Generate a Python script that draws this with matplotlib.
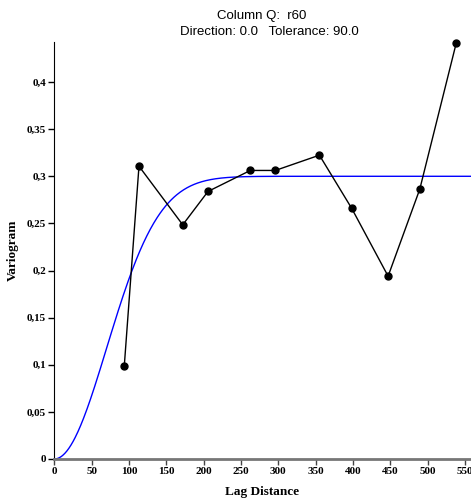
import numpy as np
import matplotlib
matplotlib.use('agg')
import matplotlib.pyplot as plt
from matplotlib.ticker import FuncFormatter

# experimental variogram (lag, gamma)
lag = [93.7, 113.4, 172.0, 205.8, 262.5, 296.0, 355.0, 398.3, 447.0, 489.4, 538.4]
gamma = [0.0986, 0.3107, 0.2485, 0.2839, 0.3062, 0.3062, 0.3224, 0.2659, 0.194, 0.2863, 0.4419]

# gaussian model
sill = 0.3
model_range = 172.0

xmax = 558
ymax = 0.4425

h = np.linspace(0, xmax, 600)
model = sill * (1 - np.exp(-3 * h**2 / model_range**2))

fig = plt.figure(figsize=(4.71, 5.03), dpi=100)
ax = fig.add_axes([54.3/471, 1 - 459/503, 1 - 54.3/471, (459 - 42)/503])

ax.plot(h, model, color='#0000ff', lw=1.0, clip_on=False)
ax.plot(lag, gamma, color='black', lw=1.0, marker='o', ms=5, clip_on=False, zorder=3)

ax.set_xlim(0, xmax)
ax.set_ylim(0, ymax)
ax.set_xticks(range(0, 551, 50))
ax.set_yticks(np.arange(0, 0.41, 0.05))
ax.yaxis.set_major_formatter(FuncFormatter(lambda v, p: ('%g' % round(v, 2)).replace('.', ',')))

for s in ['top', 'right']:
    ax.spines[s].set_visible(False)
ax.spines['left'].set_color('black')
ax.spines['bottom'].set_color('#777777')
ax.spines['bottom'].set_linewidth(2)
ax.tick_params(axis='x', colors='#444444', length=4, width=1, pad=2)
ax.tick_params(axis='y', colors='black', length=4, width=1, pad=2)

for lbl in ax.get_xticklabels() + ax.get_yticklabels():
    lbl.set_fontfamily('Liberation Serif')
    lbl.set_fontweight('bold')
    lbl.set_fontsize(8)
    lbl.set_color('black')

fig.text(262/471, 1 - 16/503, 'Column Q:  r60', ha='center', va='center',
         family='Liberation Sans', fontsize=9.5)
fig.text(269/471, 1 - 32/503, 'Direction: 0.0   Tolerance: 90.0', ha='center', va='center',
         family='Liberation Sans', fontsize=9.5)

fig.text(262/471, 1 - 492/503, 'Lag Distance', ha='center', va='center',
         family='Liberation Serif', fontweight='bold', fontsize=9.5)
fig.text(13/471, 1 - 250/503, 'Variogram', ha='center', va='center', rotation=90,
         family='Liberation Serif', fontweight='bold', fontsize=9.5)

plt.savefig('out.png', dpi=100)
plt.close()
